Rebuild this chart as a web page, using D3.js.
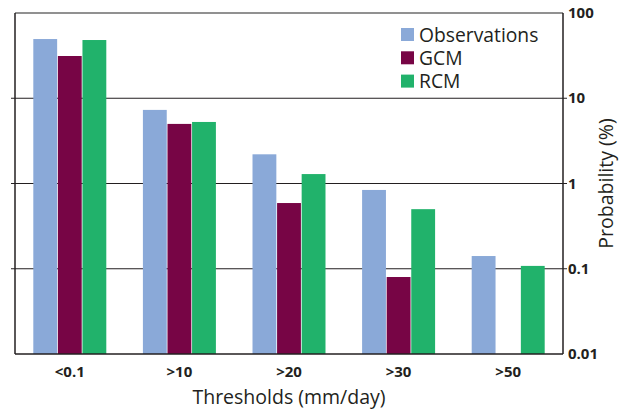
<!DOCTYPE html>
<html>
<head>
<meta charset="utf-8">
<script src="https://cdn.jsdelivr.net/npm/d3@7"></script>
<style>
  body { margin: 0; background: #fff; }
  text { font-family: "Open Sans", "Noto Sans", sans-serif; fill: #231f20; }
</style>
</head>
<body>
<div id="chart"></div>
<script>
// Exceedance probabilities (%) per daily rainfall threshold
const thresholds = ["<0.1", ">10", ">20", ">30", ">50"];
const seriesNames = ["Observations", "GCM", "RCM"];
const observations = [49.5, 7.3, 2.2, 0.84, 0.141];
const gcm = [31.3, 5.0, 0.59, 0.080, null];
const rcm = [48.2, 5.27, 1.29, 0.50, 0.108];
const yTicks = [0.01, 0.1, 1, 10, 100];
const yTickLabels = ["0.01", "0.1", "1", "10", "100"];

const colors = ["#8aa9d8", "#770545", "#21b26b"];

const W = 631, H = 410;
const margin = { top: 13, right: 68, bottom: 56, left: 15 };
const innerW = W - margin.left - margin.right;
const innerH = H - margin.top - margin.bottom;

const svg = d3.select("#chart").append("svg")
  .attr("width", W)
  .attr("height", H);

const g = svg.append("g")
  .attr("transform", `translate(${margin.left},${margin.top})`);

const x = d3.scaleBand()
  .domain(thresholds)
  .range([0, innerW])
  .paddingInner(0.334)
  .paddingOuter(0.167);

const xs = d3.scaleBand()
  .domain(seriesNames)
  .range([0, x.bandwidth()])
  .paddingInner(0.03);

const y = d3.scaleLog()
  .domain([0.01, 100])
  .range([innerH, 0]);

const rows = thresholds.map((t, i) => ({
  t,
  values: [observations[i], gcm[i], rcm[i]]
}));

// gridlines
g.append("g")
  .selectAll("line")
  .data(yTicks.slice(1, -1))
  .join("line")
  .attr("x1", -4)
  .attr("x2", innerW + 4)
  .attr("y1", d => y(d))
  .attr("y2", d => y(d))
  .attr("stroke", "#231f20")
  .attr("stroke-width", 1.2);

// bars
g.append("g")
  .selectAll("g")
  .data(rows)
  .join("g")
  .attr("transform", d => `translate(${x(d.t)},0)`)
  .selectAll("rect")
  .data(d => d.values.map((v, k) => ({ v, k })).filter(d => d.v != null))
  .join("rect")
  .attr("x", d => xs(seriesNames[d.k]))
  .attr("width", xs.bandwidth())
  .attr("y", d => y(d.v))
  .attr("height", d => innerH - y(d.v))
  .attr("fill", d => colors[d.k]);

// frame
g.append("line")
  .attr("x1", 0).attr("x2", innerW)
  .attr("y1", 0).attr("y2", 0)
  .attr("stroke", "#6d6d6d").attr("stroke-width", 1.5);
g.append("line")
  .attr("x1", 0).attr("x2", 0)
  .attr("y1", 0).attr("y2", innerH)
  .attr("stroke", "#231f20").attr("stroke-width", 1.5);
g.append("line")
  .attr("x1", innerW).attr("x2", innerW)
  .attr("y1", 0).attr("y2", innerH)
  .attr("stroke", "#231f20").attr("stroke-width", 1.5);
g.append("line")
  .attr("x1", 0).attr("x2", innerW)
  .attr("y1", innerH).attr("y2", innerH)
  .attr("stroke", "#231f20").attr("stroke-width", 1.5);

// right axis labels
g.append("g")
  .selectAll("text")
  .data(yTicks)
  .join("text")
  .attr("x", innerW + 5)
  .attr("y", d => y(d) + 5)
  .attr("font-size", 15)
  .attr("font-weight", "bold")
  .text((d, i) => yTickLabels[i]);

// x labels
g.append("g")
  .selectAll("text")
  .data(thresholds)
  .join("text")
  .attr("x", d => x(d) + x.bandwidth() / 2)
  .attr("y", innerH + 23)
  .attr("text-anchor", "middle")
  .attr("font-size", 15)
  .attr("font-weight", "bold")
  .text(d => d);

// axis titles
svg.append("text")
  .attr("x", margin.left + innerW / 2)
  .attr("y", 404)
  .attr("text-anchor", "middle")
  .attr("font-size", 19.5)
  .text("Thresholds (mm/day)");

svg.append("text")
  .attr("transform", `translate(613,${margin.top + innerH / 2}) rotate(-90)`)
  .attr("text-anchor", "middle")
  .attr("font-size", 19.5)
  .text("Probability (%)");

// legend
const legend = svg.append("g").attr("transform", "translate(401,28)");
const item = legend.selectAll("g")
  .data(seriesNames)
  .join("g")
  .attr("transform", (d, i) => `translate(0,${i * 23.3})`);
item.append("rect")
  .attr("width", 13)
  .attr("height", 13)
  .attr("fill", (d, i) => colors[i]);
item.append("text")
  .attr("x", 18)
  .attr("y", 13.5)
  .attr("font-size", 19.3)
  .text(d => d);
</script>
</body>
</html>
